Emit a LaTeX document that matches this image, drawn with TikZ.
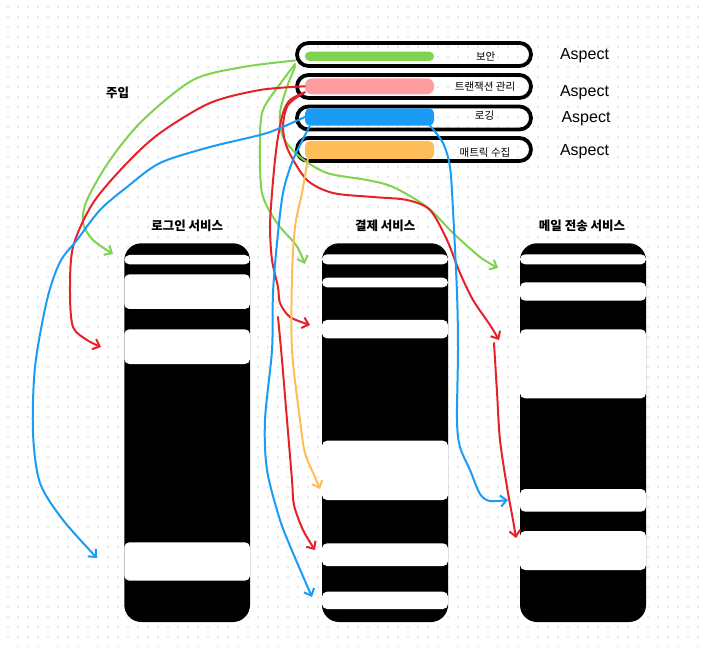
\documentclass[tikz,border=0pt]{standalone}
\usepackage{fontspec}
\setmainfont{Noto Sans CJK KR}
\newfontfamily\latinfont{Liberation Sans}
\usetikzlibrary{arrows.meta}
\definecolor{cgreen}{HTML}{7ED34F}
\definecolor{cred}{HTML}{E5222A}
\definecolor{cblue}{HTML}{1A9CF6}
\definecolor{corange}{HTML}{FFBD59}
\definecolor{cpink}{HTML}{FF9C9F}
\definecolor{cdot}{HTML}{E8E8E8}
\begin{document}
\begin{tikzpicture}[x=1pt,y=-1pt,
    aspectbox/.style={draw,line width=3.8pt,rounded corners=11.5pt,minimum width=234pt,minimum height=23pt,inner sep=0pt},
    bar/.style={minimum width=129pt,inner sep=0pt},
    band/.style={fill=white,rounded corners=5pt},
    svc/.style={fill=black,rounded corners=17pt},
    svctitle/.style={font=\bfseries\fontsize{12.5}{14}\selectfont},
    small/.style={font=\fontsize{10.5}{12}\selectfont},
    asp/.style={font=\latinfont\fontsize{16}{18}\selectfont},
    arr/.style={line width=2pt,line cap=round,line join=round,-{Straight Barb[length=6pt,width=11pt]}}]
  \useasboundingbox[fill=white] (0,0) rectangle (702,647);
  \foreach \i in {0,...,69}
    \foreach \j in {0,...,64}
      \fill[cdot] (7+10*\i,6+10*\j) rectangle +(2,2);

  \fill[svc] (124.3,243.3) rectangle (250,622);
  \fill[svc] (322,243.3) rectangle (448,622);
  \fill[svc] (520,243.3) rectangle (646,622);
  \foreach \a/\b in {255/264.3,274.3/309,329.3/364,542.3/580.7}
    \fill[band] (124.3,\a) rectangle (250,\b);
  \foreach \a/\b in {254.3/264.3,277.7/287.3,320/338.3,440.7/500,543.3/566,591.7/609}
    \fill[band] (322,\a) rectangle (448,\b);
  \foreach \a/\b in {254.3/264.3,282.3/300.7,329.3/398.3,489/511.7,531/570}
    \fill[band] (520,\a) rectangle (646,\b);
  \node[svctitle] (login) at (187.2,225.5) {로그인 서비스};
  \node[svctitle] (pay) at (385.2,225.5) {결제 서비스};
  \node[svctitle] (mail) at (582,225.5) {메일 전송 서비스};
  \node[font=\bfseries\fontsize{12.5}{14}\selectfont] (inject) at (117.5,92.5) {주입};

  \node[aspectbox] (sec) at (414,54.5) {};
  \node[aspectbox] (tx) at (414,86.5) {};
  \node[aspectbox] (log) at (414,118) {};
  \node[aspectbox] (met) at (414,149.5) {};
  \node[bar,fill=cgreen,minimum height=9.3pt,rounded corners=4.6pt] (secbar) at (369.5,56.3) {};
  \node[bar,fill=cpink,minimum height=16pt,rounded corners=7pt] (txbar) at (369.5,86.3) {};
  \node[bar,fill=cblue,minimum height=17.4pt,rounded corners=5pt] (logbar) at (369.5,117) {};
  \node[bar,fill=corange,minimum height=18pt,rounded corners=5pt] (metbar) at (369.5,150) {};
  \node[small] (seclbl) at (485.7,56) {보안};
  \node[small] (txlbl) at (485,86.2) {트랜잭션 관리};
  \node[small] (loglbl) at (484.5,116) {로깅};
  \node[small] (metlbl) at (485,152.3) {매트릭 수집};
  \node[asp] (asp1) at (584.5,55.8) {Aspect};
  \node[asp] (asp2) at (584.5,93) {Aspect};
  \node[asp] (asp3) at (586,118.3) {Aspect};
  \node[asp] (asp4) at (584.5,152) {Aspect};

  \coordinate (g1s) at ([yshift=-6pt]sec.west);
  \coordinate (g2s) at ([yshift=-9.5pt]sec.west);
  \coordinate (g3s) at ([yshift=-12pt]sec.west);
  \coordinate (r1s) at (txbar.west);
  \coordinate (r2s) at ([yshift=-6pt]txbar.west);
  \coordinate (b1s) at (logbar.west);
  \coordinate (b2s) at ([xshift=5pt]logbar.south west);
  \coordinate (b3s) at ([xshift=-4pt]logbar.south east);
  \coordinate (o1s) at ([xshift=3pt]metbar.south west);
  \coordinate (r4s) at (278,317);
  \coordinate (r5s) at (494,343);
  \coordinate (g1e) at (113,254);
  \coordinate (g2e) at (305,264);
  \coordinate (g3e) at (498,268);
  \coordinate (r1e) at (101,347);
  \coordinate (r2e) at (310,325);
  \coordinate (r3e) at (499,340);
  \coordinate (r4e) at (315,550);
  \coordinate (r5e) at (516,538);
  \coordinate (b1e) at (97,558);
  \coordinate (b2e) at (312,597);
  \coordinate (b3e) at (508,500);
  \coordinate (o1e) at (320,489);

  \begin{scope}[arr,cgreen]
    \draw plot[smooth] coordinates {(g1s) (243,67) (193,80) (143,120) (110,160) (87,200) (83,223) (93,240) (g1e)};
    \draw plot[smooth] coordinates {(g2s) (283,80) (263,110) (260,143) (262,193) (277,223) (296,245) (g2e)};
    \draw plot[smooth] coordinates {(g3s) (287,87) (280,113) (283,137) (300,157) (327,173) (367,180) (393,187) (427,207) (453,233) (480,257) (g3e)};
  \end{scope}
  \begin{scope}[arr,cred]
    \draw plot[smooth] coordinates {(r1s) (260,90) (210,103) (160,133) (127,163) (93,203) (73,247) (70,293) (73,327) (87,340) (r1e)};
    \draw plot[smooth] coordinates {(r2s) (290,100) (283,113) (278,137) (275,160) (272,193) (270,227) (272,260) (278,287) (280,303) (290,317) (r2e)};
    \draw plot[smooth] coordinates {(r2s) (288,105) (283,127) (288,150) (307,180) (333,193) (373,197) (407,200) (430,210) (447,240) (460,273) (473,300) (490,325) (r3e)};
    \draw plot[smooth] coordinates {(r4s) (282,360) (287,420) (292,480) (294,505) (303,530) (r4e)};
    \draw plot[smooth] coordinates {(r5s) (497,392) (500,440) (507,487) (513,520) (r5e)};
  \end{scope}
  \begin{scope}[arr,cblue]
    \draw plot[smooth] coordinates {(b1s) (267,133) (210,147) (160,163) (127,187) (100,210) (77,240) (60,262) (47,300) (35,367) (33,433) (40,483) (63,520) (b1e)};
    \draw plot[smooth] coordinates {(b2s) (293,160) (283,193) (277,243) (273,293) (272,350) (265,420) (267,470) (280,520) (293,553) (b2e)};
    \draw plot[smooth] coordinates {(b3s) (443,143) (450,167) (453,210) (457,293) (458,350) (457,420) (460,447) (470,470) (480,494) (490,501) (b3e)};
  \end{scope}
  \draw[arr,corange] plot[smooth] coordinates {(o1s) (302,193) (295,227) (292,277) (292,350) (300,420) (305,453) (315,477) (o1e)};
\end{tikzpicture}
\end{document}
